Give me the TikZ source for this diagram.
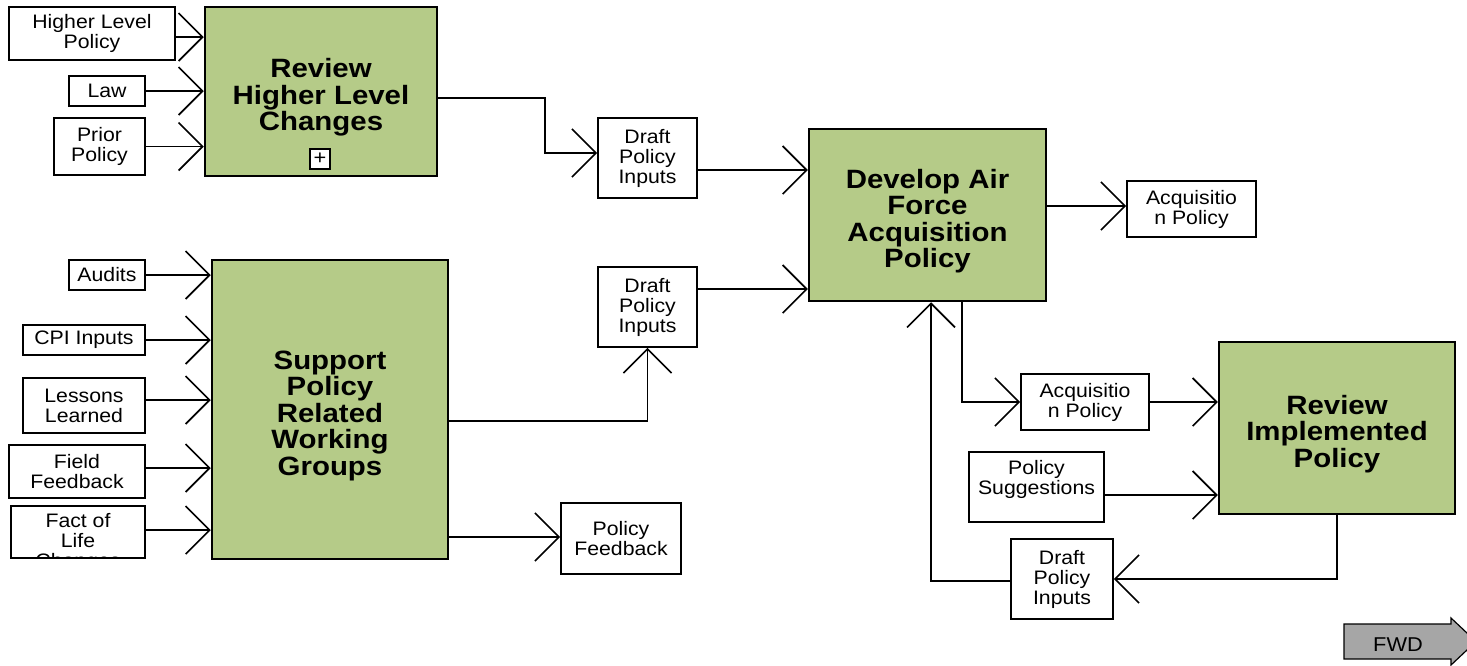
\documentclass[tikz,border=0pt]{standalone}
\usepackage{fontspec}
\setmainfont[FakeStretch=1.09]{Liberation Sans}
\newfontfamily\actfont[FakeStretch=1.11]{Liberation Sans}
\usetikzlibrary{arrows.meta}
\definecolor{boxgreen}{RGB}{181,203,136}
\definecolor{fwdgray}{RGB}{166,166,166}
\tikzset{every picture/.style={line width=1.6pt}}
\tikzset{
actbox/.style={draw, line width=2.5pt, fill=boxgreen, inner sep=0pt},
acttext/.style={align=center, inner sep=0pt, yshift=-6pt,
  font=\actfont\fontsize{26.5}{26.5}\selectfont\bfseries},
databox/.style={draw, line width=1.8pt, fill=white, align=center, inner sep=0pt,
  font=\fontsize{19.5}{20}\selectfont},
flow/.style={-{Straight Barb[length=24pt,width=48pt]}}}

\begin{document}
\begin{tikzpicture}[x=1pt,y=1pt,yscale=-1,xscale=1]
\useasboundingbox (0,0) rectangle (1467,665);

%Activities
\node[actbox, minimum width=232, minimum height=169,
  label={[acttext]center:{Review\\Higher Level\\Changes}}] (rhlc) at (321,91.5) {};
\node[databox, line width=1.2pt, minimum size=20, font=\fontsize{20}{20}\selectfont] (plus) at (320,159) {+};
\node[actbox, minimum width=236, minimum height=299,
  label={[acttext]center:{Support\\Policy\\Related\\Working\\Groups}}] (sprwg) at (330,409.5) {};
\node[actbox, minimum width=237, minimum height=172,
  label={[acttext]center:{Develop Air\\Force\\Acquisition\\Policy}}] (dafap) at (927.5,215) {};
\node[actbox, minimum width=236, minimum height=172,
  label={[acttext]center:{Review\\Implemented\\Policy}}] (rip) at (1337,428) {};

%Inputs and outputs
\node[databox, minimum width=166, minimum height=53] (hlp) at (92,33.5) {Higher Level\\Policy};
\node[databox, minimum width=76, minimum height=30] (law) at (107,91) {Law};
\node[databox, minimum width=91, minimum height=57] (prior) at (99.5,146.5) {Prior\\Policy};
\node[databox, minimum width=99, minimum height=80] (dpi1) at (647.5,158) {Draft\\Policy\\Inputs};
\node[databox, minimum width=99, minimum height=80] (dpi2) at (647.5,307) {Draft\\Policy\\Inputs};
\node[databox, minimum width=129, minimum height=56] (ap1) at (1191.5,209) {Acquisitio\\n Policy};
\node[databox, minimum width=76, minimum height=30] (audits) at (107,275) {Audits};
\node[databox, minimum width=122, minimum height=30] (cpi) at (84,340) {CPI Inputs};
\node[databox, minimum width=122, minimum height=55] (ll) at (84,405.5) {Lessons\\Learned};
\node[databox, minimum width=136, minimum height=53] (ff) at (77,471.5) {Field\\Feedback};
\node[databox, minimum width=134, minimum height=52,
  path picture={\node[align=center, font=\fontsize{19.5}{20}\selectfont] at ([yshift=-10pt]path picture bounding box.center) {Fact of\\Life\\Changes};}] (fol) at (78,532) {};
\node[databox, minimum width=120, minimum height=71] (pf) at (621,538.5) {Policy\\Feedback};
\node[databox, minimum width=128, minimum height=56] (ap2) at (1085,402) {Acquisitio\\n Policy};
\node[databox, minimum width=135, minimum height=70,
  path picture={\node[align=center, font=\fontsize{19.5}{20}\selectfont] at ([yshift=8pt]path picture bounding box.center) {Policy\\Suggestions};}] (ps) at (1036.5,487) {};
\node[databox, minimum width=102, minimum height=80] (dpi3) at (1062,579) {Draft\\Policy\\Inputs};

%Connectors
\draw[flow] (hlp.east |- 0,37) -- (rhlc.west |- 0,37);
\draw[flow] (law.east) -- (law.east -| rhlc.west);
\draw[flow] (prior.east) -- (prior.east -| rhlc.west);
\draw[flow] (rhlc.east |- 0,98) -| (545,153) -- (dpi1.west |- 0,153);
\draw[flow] (dpi1.east |- 0,170) -- (dafap.west |- 0,170);
\draw[flow] (dpi2.east |- 0,289) -- (dafap.west |- 0,289);
\draw[flow] (audits.east) -- (audits.east -| sprwg.west);
\draw[flow] (cpi.east) -- (cpi.east -| sprwg.west);
\draw[flow] (ll.east |- 0,400) -- (sprwg.west |- 0,400);
\draw[flow] (ff.east |- 0,468) -- (sprwg.west |- 0,468);
\draw[flow] (fol.east |- 0,530) -- (sprwg.west |- 0,530);
\draw[flow] (sprwg.east |- 0,421) -| (dpi2.south);
\draw[flow] (sprwg.east |- 0,537) -- (pf.west |- 0,537);
\draw[flow] (dafap.east |- 0,206) -- (ap1.west |- 0,206);
\draw[flow] (dafap.south -| 962,0) |- (ap2.west);
\draw[flow] (ap2.east) -- (ap2.east -| rip.west);
\draw[flow] (ps.east |- 0,495) -- (rip.west |- 0,495);
\draw[flow] (rip.south) |- (dpi3.east);
\draw[flow] (dpi3.west |- 0,581) -| (dafap.south -| 931,0);

%Page button
\draw[fill=fwdgray, line width=1.2pt] (1344,624) -- (1451,624) -- (1451,618) -- (1476,641.5)
  -- (1451,665) -- (1451,659) -- (1344,659) -- cycle;
\node[font=\fontsize{20}{20}\selectfont, inner sep=0pt] (fwd) at (1398,645) {FWD};
\end{tikzpicture}
\end{document}
